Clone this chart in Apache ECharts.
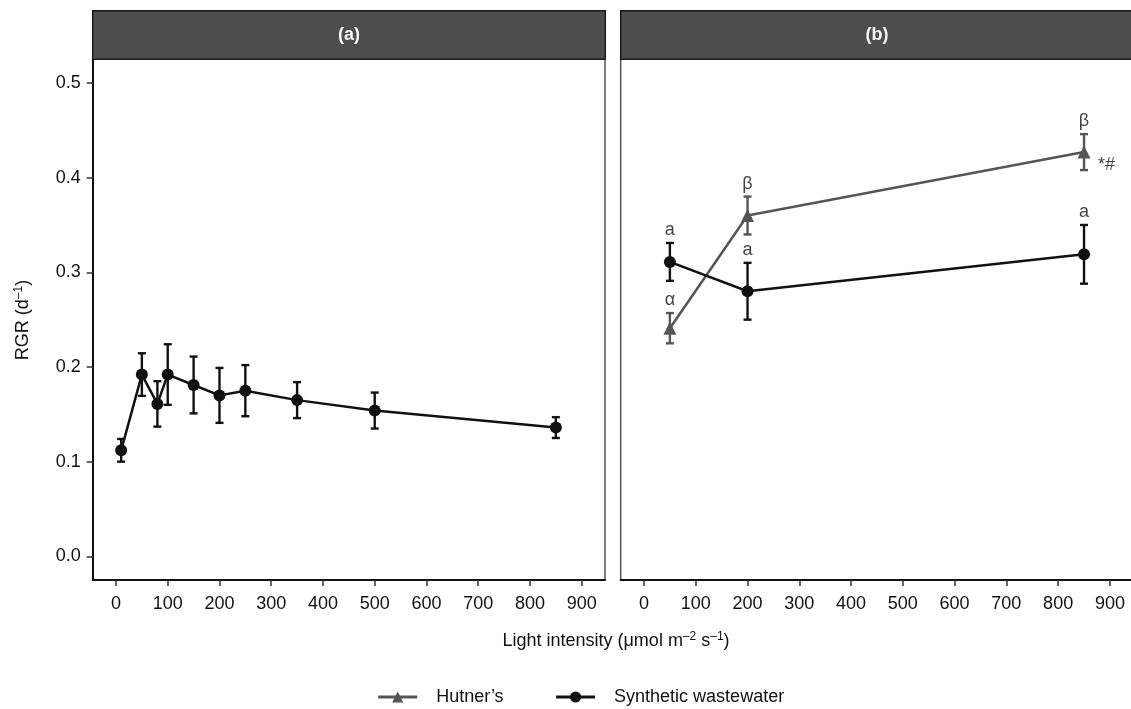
<!DOCTYPE html>
<html>
<head>
<meta charset="utf-8">
<title>RGR vs light intensity</title>
<script src="https://cdn.jsdelivr.net/npm/echarts@6/dist/echarts.min.js"></script>
<style>
html, body { margin: 0; padding: 0; background: #fff; }
#chart { width: 1131px; height: 709px; }
</style>
</head>
<body>
<div id="chart"></div>
<script>
// panel (a): synthetic wastewater over many light levels
const lightA = [10, 50, 80, 100, 150, 200, 250, 350, 500, 850];
const synA = [0.112, 0.192, 0.161, 0.192, 0.181, 0.170, 0.175, 0.165, 0.154, 0.136];
const synAErr = [0.012, 0.0225, 0.024, 0.032, 0.030, 0.029, 0.027, 0.019, 0.019, 0.011];

// panel (b): both media at three light levels
const lightB = [50, 200, 850];
const synB = [0.311, 0.280, 0.319];
const synBErr = [0.020, 0.030, 0.031];
const hutB = [0.241, 0.360, 0.427];
const hutBErr = [0.016, 0.020, 0.019];
const synLetters = ['a', 'a', 'a'];
const hutLetters = ['α', 'β', 'β'];
const hutExtra = ['', '', '*#'];

const xTicks = [0, 100, 200, 300, 400, 500, 600, 700, 800, 900];
const yTicks = [0, 0.1, 0.2, 0.3, 0.4, 0.5];

const FONT = 'Liberation Sans, Arial, sans-serif';
const TXT = '#111111';
const BLACK = '#111111';
const GREY = '#555555';

function pts(xs, ys) { return xs.map((x, i) => [x, ys[i]]); }
function bars(xs, ys, es) { return xs.map((x, i) => [x, ys[i] - es[i], ys[i] + es[i]]); }

function errorBar(color) {
	return function (params, api) {
		const x = api.value(0);
		const lo = api.coord([x, api.value(1)]);
		const hi = api.coord([x, api.value(2)]);
		const w = 4;
		const st = { stroke: color, lineWidth: 2.4 };
		return {
			type: 'group',
			children: [
				{ type: 'line', shape: { x1: lo[0], y1: lo[1], x2: hi[0], y2: hi[1] }, style: st },
				{ type: 'line', shape: { x1: lo[0] - w, y1: lo[1], x2: lo[0] + w, y2: lo[1] }, style: st },
				{ type: 'line', shape: { x1: hi[0] - w, y1: hi[1], x2: hi[0] + w, y2: hi[1] }, style: st }
			]
		};
	};
}

function xAxisFor(i) {
	return {
		type: 'value', gridIndex: i, min: -45, max: 945,
		splitLine: { show: false },
		axisLine: { onZero: false, lineStyle: { color: BLACK, width: 2 } },
		axisTick: { customValues: xTicks, length: 6, lineStyle: { color: '#333', width: 1.5 } },
		axisLabel: { customValues: xTicks, margin: 15, fontSize: 18, fontFamily: FONT, color: TXT }
	};
}

const chart = echarts.init(document.getElementById('chart'));

const option = {
	animation: false,
	backgroundColor: '#fff',
	grid: [
		{ left: 92.7, top: 59.3, width: 512.3, height: 520.7, show: true, borderColor: GREY, borderWidth: 1.5, outerBoundsMode: 'none' },
		{ left: 620.7, top: 59.3, width: 512.5, height: 520.7, show: true, borderColor: GREY, borderWidth: 1.5, outerBoundsMode: 'none' }
	],
	xAxis: [xAxisFor(0), xAxisFor(1)],
	yAxis: [
		{
			type: 'value', gridIndex: 0, min: -0.025, max: 0.525,
			splitLine: { show: false },
			axisLine: { show: true, onZero: false, lineStyle: { color: BLACK, width: 2 } },
			axisTick: { show: true, customValues: yTicks, length: 6, lineStyle: { color: '#333', width: 1.5 } },
			axisLabel: {
				customValues: yTicks, margin: 12, fontSize: 18, fontFamily: FONT, color: TXT,
				formatter: v => v.toFixed(1)
			}
		},
		{
			type: 'value', gridIndex: 1, min: -0.025, max: 0.525,
			splitLine: { show: false },
			axisLine: { show: false },
			axisTick: { show: false },
			axisLabel: { show: false }
		}
	],
	legend: {
		data: ['Hutner’s', 'Synthetic wastewater'],
		left: 376.7, top: 688, padding: 0,
		itemWidth: 39, itemHeight: 14, itemGap: 51,
		lineStyle: { width: 3 },
		textStyle: { fontSize: 18, fontFamily: FONT, color: TXT, padding: [0, 0, 0, 14] }
	},
	graphic: [
		{
			type: 'rect', shape: { x: 92.7, y: 10.7, width: 512.6, height: 48.6 },
			style: { fill: '#4d4d4d', stroke: '#1a1a1a', lineWidth: 1.5 }
		},
		{
			type: 'text', x: 349, y: 35,
			style: { text: '(a)', fill: '#f5f5f5', font: 'bold 18px Liberation Sans, Arial, sans-serif', align: 'center', verticalAlign: 'middle' }
		},
		{
			type: 'rect', shape: { x: 620.7, y: 10.7, width: 515, height: 48.6 },
			style: { fill: '#4d4d4d', stroke: '#1a1a1a', lineWidth: 1.5 }
		},
		{
			type: 'text', x: 877, y: 35,
			style: { text: '(b)', fill: '#f5f5f5', font: 'bold 18px Liberation Sans, Arial, sans-serif', align: 'center', verticalAlign: 'middle' }
		},
		{
			type: 'text', x: 23, y: 320, rotation: Math.PI / 2,
			style: {
				text: 'RGR (d{sup|–1})', fill: TXT, font: '18px Liberation Sans, Arial, sans-serif',
				align: 'center', verticalAlign: 'middle',
				rich: { sup: { fontSize: 12, fontFamily: FONT, fill: TXT, padding: [0, 0, 9, 0] } }
			}
		},
		{
			type: 'text', x: 616, y: 641,
			style: {
				text: 'Light intensity (μmol m{sup|–2} s{sup|–1})', fill: TXT, font: '18px Liberation Sans, Arial, sans-serif',
				align: 'center', verticalAlign: 'middle',
				rich: { sup: { fontSize: 12, fontFamily: FONT, fill: TXT, padding: [0, 0, 9, 0] } }
			}
		}
	],
	series: [
		// error bars first so the points sit on top
		{
			type: 'custom', xAxisIndex: 0, yAxisIndex: 0, z: 2,
			renderItem: errorBar(BLACK), encode: { x: 0, y: [1, 2] },
			data: bars(lightA, synA, synAErr)
		},
		{
			type: 'custom', xAxisIndex: 1, yAxisIndex: 1, z: 2,
			renderItem: errorBar(BLACK), encode: { x: 0, y: [1, 2] },
			data: bars(lightB, synB, synBErr)
		},
		{
			type: 'custom', xAxisIndex: 1, yAxisIndex: 1, z: 2,
			renderItem: errorBar(GREY), encode: { x: 0, y: [1, 2] },
			data: bars(lightB, hutB, hutBErr)
		},
		{
			name: 'Synthetic wastewater', type: 'line', xAxisIndex: 0, yAxisIndex: 0, z: 3,
			symbol: 'circle', symbolSize: 12,
			lineStyle: { color: BLACK, width: 2.5 }, itemStyle: { color: BLACK },
			data: pts(lightA, synA)
		},
		{
			name: 'Hutner’s', type: 'line', xAxisIndex: 1, yAxisIndex: 1, z: 3,
			symbol: 'triangle', symbolSize: 13,
			lineStyle: { color: GREY, width: 2.5 }, itemStyle: { color: GREY },
			data: pts(lightB, hutB)
		},
		{
			name: 'Synthetic wastewater', type: 'line', xAxisIndex: 1, yAxisIndex: 1, z: 3,
			symbol: 'circle', symbolSize: 12,
			lineStyle: { color: BLACK, width: 2.5 }, itemStyle: { color: BLACK },
			data: pts(lightB, synB)
		},
		// significance letters above the error bars
		{
			type: 'scatter', xAxisIndex: 1, yAxisIndex: 1, z: 4, symbolSize: 0, silent: true,
			label: {
				show: true, position: 'top', distance: 4, fontSize: 18, fontFamily: FONT, color: TXT,
				formatter: p => synLetters[p.dataIndex]
			},
			data: lightB.map((x, i) => [x, synB[i] + synBErr[i]])
		},
		{
			type: 'scatter', xAxisIndex: 1, yAxisIndex: 1, z: 4, symbolSize: 0, silent: true,
			label: {
				show: true, position: 'top', distance: 4, fontSize: 18, fontFamily: FONT, color: TXT,
				formatter: p => hutLetters[p.dataIndex]
			},
			data: lightB.map((x, i) => [x, hutB[i] + hutBErr[i]])
		},
		{
			type: 'scatter', xAxisIndex: 1, yAxisIndex: 1, z: 4, symbolSize: 0, silent: true,
			label: {
				show: true, position: 'right', distance: 14, offset: [0, 13], fontSize: 18, fontFamily: FONT, color: TXT,
				formatter: p => hutExtra[p.dataIndex]
			},
			data: pts(lightB, hutB)
		}
	]
};

chart.setOption(option);
window.addEventListener('resize', () => { chart.resize(); });
</script>
</body>
</html>
